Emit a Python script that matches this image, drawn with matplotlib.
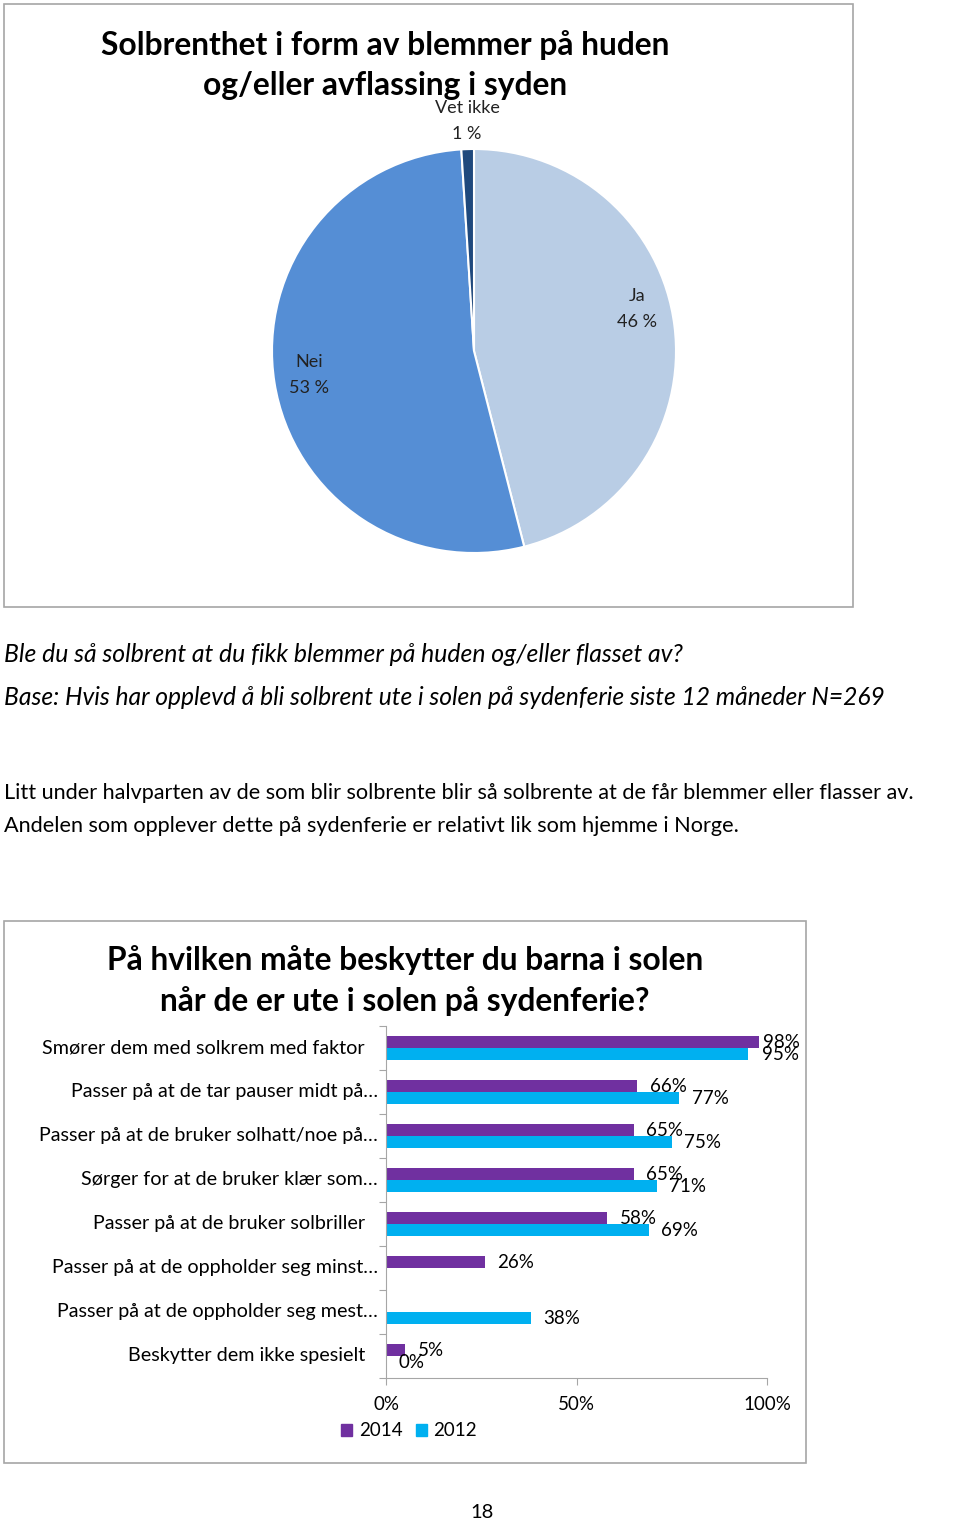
import numpy as np
import matplotlib.pyplot as plt
from matplotlib.patches import Rectangle

plt.rcParams['font.family'] = ['Lato', 'DejaVu Sans']

W, H = 960, 1523

# --- data: pie ---
pie_labels = ["Ja", "Nei", "Vet ikke"]
pie_values = [46, 53, 1]
pie_colors = ["#B9CDE5", "#558ED5", "#1F497D"]

# --- data: bars ---
categories = [
    "Smører dem med solkrem med faktor",
    "Passer på at de tar pauser midt på…",
    "Passer på at de bruker solhatt/noe på…",
    "Sørger for at de bruker klær som…",
    "Passer på at de bruker solbriller",
    "Passer på at de oppholder seg minst…",
    "Passer på at de oppholder seg mest…",
    "Beskytter dem ikke spesielt",
]
vals_2014 = [98, 66, 65, 65, 58, 26, np.nan, 5]
vals_2012 = [95, 77, 75, 71, 69, np.nan, 38, 0]
series_names = ["2014", "2012"]
series_colors = ["#7030A0", "#00B0F0"]
xticks = [0, 50, 100]


def fx(px):
    return px / W


def fy(py):
    return 1 - py / H


def box(fig, x0, y0, x1, y1):
    fig.patches.append(Rectangle((fx(x0), fy(y1)), fx(x1) - fx(x0), fy(y0) - fy(y1),
                                 transform=fig.transFigure, fill=False,
                                 edgecolor="#A6A6A6", linewidth=1.2))


fig = plt.figure(figsize=(W / 100, H / 100), dpi=100)

# ---------- pie chart ----------
box(fig, 4, 4, 853, 607)
fig.text(fx(385), fy(45), "Solbrenthet i form av blemmer på huden", ha="center", va="center",
         fontsize=22.9, fontweight="bold")
fig.text(fx(385), fy(86), "og/eller avflassing i syden", ha="center", va="center",
         fontsize=22.9, fontweight="bold")

cx, cy, r = 474, 351, 202
ax_pie = fig.add_axes([fx(cx - r), fy(cy + r), fx(2 * r), (2 * r) / H])
ax_pie.pie(pie_values, colors=pie_colors, startangle=90, counterclock=False,
           wedgeprops=dict(edgecolor="white", linewidth=1.5))
ax_pie.set_xlim(-1, 1)
ax_pie.set_ylim(-1, 1)
ax_pie.set_aspect("equal")
ax_pie.axis("off")

pie_label_pos = [(637, 309), (309, 375), (467, 121)]
for lab, v, (px, py) in zip(pie_labels, pie_values, pie_label_pos):
    fig.text(fx(px), fy(py), f"{lab}\n{v} %", ha="center", va="center",
             fontsize=13, linespacing=1.71, color="#222222")

# ---------- text ----------
fig.text(fx(4), fy(654), "Ble du så solbrent at du fikk blemmer på huden og/eller flasset av?",
         ha="left", va="center", fontsize=17.8, style="italic")
fig.text(fx(4), fy(698), "Base: Hvis har opplevd å bli solbrent ute i solen på sydenferie siste 12 måneder N=269",
         ha="left", va="center", fontsize=17.7, style="italic")
fig.text(fx(4), fy(793), "Litt under halvparten av de som blir solbrente blir så solbrente at de får blemmer eller flasser av.",
         ha="left", va="center", fontsize=15.6)
fig.text(fx(4), fy(826), "Andelen som opplever dette på sydenferie er relativt lik som hjemme i Norge.",
         ha="left", va="center", fontsize=15.6)

# ---------- bar chart ----------
box(fig, 4, 921, 806, 1463)
fig.text(fx(405), fy(960), "På hvilken måte beskytter du barna i solen", ha="center", va="center",
         fontsize=22.9, fontweight="bold")
fig.text(fx(405), fy(1001), "når de er ute i solen på sydenferie?", ha="center", va="center",
         fontsize=22.9, fontweight="bold")

x0, x1, y0, y1 = 386, 767, 1026, 1378
ax = fig.add_axes([fx(x0), fy(y1), fx(x1 - x0), (y1 - y0) / H])
n = len(categories)
ypos = np.arange(n)
bh = 12 / 44
for vals, off, col in zip([vals_2014, vals_2012], [-bh / 2, bh / 2], series_colors):
    v = np.array(vals, dtype=float) / 100
    ax.barh(ypos + off, v, height=bh, color=col)
    for yi, vi in zip(ypos, v):
        if np.isnan(vi):
            continue
        if vi > 0.9:
            # label clamped inside the chart area, like Excel does
            ax.text(1.085, yi + off, f"{vi * 100:.0f}%", transform=ax.get_yaxis_transform(),
                    ha="right", va="center", fontsize=13.5)
        else:
            ax.annotate(f"{vi * 100:.0f}%", (vi, yi + off), xytext=(9, 0), textcoords="offset points",
                        ha="left", va="center", fontsize=13.5)
ax.set_xlim(0, 1)
ax.set_ylim(n - 0.5, -0.5)
ax.set_yticks(np.arange(n + 1) - 0.5)
ax.set_yticklabels([])
ax.tick_params(axis="y", length=5, color="#A6A6A6", direction="out")
ax.set_xticks([t / 100 for t in xticks])
ax.set_xticklabels([f"{t}%" for t in xticks], fontsize=13.5)
ax.tick_params(axis="x", length=5, color="#A6A6A6", direction="out", pad=8)
for side in ["top", "right"]:
    ax.spines[side].set_visible(False)
for side in ["left", "bottom"]:
    ax.spines[side].set_color("#A6A6A6")
ax.patch.set_alpha(0)

for i, c in enumerate(categories):
    right = -8 / (x1 - x0) if c.endswith("…") else -21 / (x1 - x0)
    ax.text(right, i, c, transform=ax.get_yaxis_transform(), ha="right", va="center",
            fontsize=14.2)

# legend
handles = [Rectangle((0, 0), 1, 1, color=c) for c in series_colors]
fig.legend(handles, series_names, loc="center left", bbox_to_anchor=(fx(341), fy(1431)),
           ncol=2, frameon=False, fontsize=13.5, handlelength=0.6, handleheight=0.6,
           handletextpad=0.35, columnspacing=0.7, borderaxespad=0, borderpad=0)

fig.text(fx(482), fy(1513), "18", ha="center", va="center", fontsize=14.5)

fig.savefig("out.png", dpi=100)
